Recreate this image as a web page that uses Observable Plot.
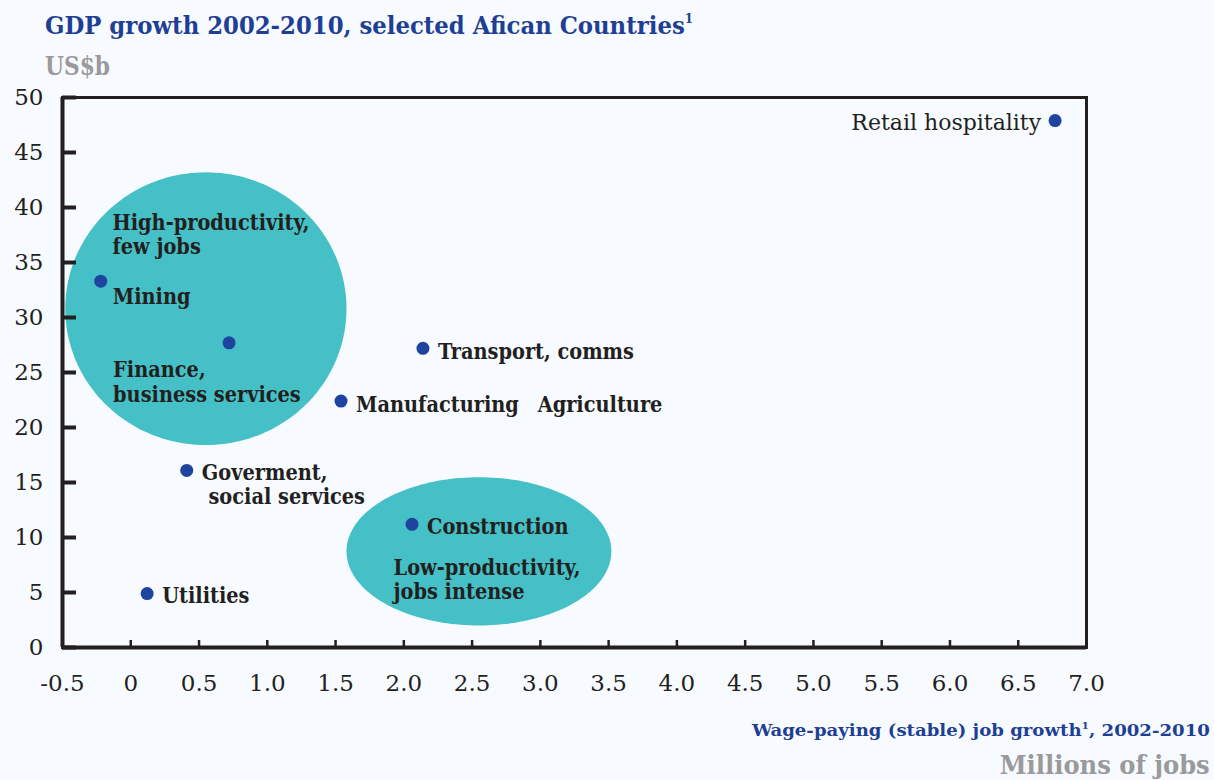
<!DOCTYPE html>
<html>
<head>
<meta charset="utf-8">
<script src="https://cdn.jsdelivr.net/npm/d3@7"></script>
<script src="https://cdn.jsdelivr.net/npm/@observablehq/plot@0.6"></script>
<style>
  html, body { margin: 0; padding: 0; background: #f7fbff; width: 1214px; height: 780px; overflow: hidden; }
  .cap { position: absolute; white-space: nowrap; font-family: "DejaVu Serif Condensed", "DejaVu Serif", serif; font-stretch: condensed; font-weight: bold; line-height: 1; }
  #title { left: 45px; top: 12px; font-size: 25px; color: #1f3f95; transform-origin: left top; }
  #title sup { font-size: 13px; vertical-align: 11px; }
  #unit { left: 45px; top: 53px; font-size: 26px; color: #9a9a9c; transform-origin: left top; }
  #chart { position: absolute; left: 0; top: 80px; }
  #xlabel { right: 4px; top: 721px; font-size: 17px; color: #1f3f95; transform-origin: right top; }
  #xlabel sup { font-size: 10px; vertical-align: 7px; }
  #xunit { right: 4px; top: 752px; font-size: 26px; color: #9a9a9c; transform-origin: right top; }
</style>
</head>
<body>
<div id="title" class="cap">GDP growth 2002-2010, selected Afican Countries<sup>1</sup></div>
<div id="unit" class="cap">US$b</div>
<div id="chart"></div>
<div id="xlabel" class="cap">Wage-paying (stable) job growth<sup>1</sup>, 2002-2010</div>
<div id="xunit" class="cap">Millions of jobs</div>
<script>
// ---- data ----
const sectors = ["Retail hospitality", "Mining", "Finance, business services", "Transport, comms",
                 "Manufacturing", "Goverment, social services", "Construction", "Utilities"];
const jobGrowth = [6.77, -0.22, 0.72, 2.14, 1.54, 0.41, 2.06, 0.12];   // millions of jobs
const gdpGrowth = [47.9, 33.3, 27.7, 27.2, 22.4, 16.1, 11.2, 4.9];     // US$b

const xTicks = [-0.5, 0, 0.5, 1, 1.5, 2, 2.5, 3, 3.5, 4, 4.5, 5, 5.5, 6, 6.5, 7];
const xTickLabels = ["-0.5", "0", "0.5", "1.0", "1.5", "2.0", "2.5", "3.0", "3.5", "4.0", "4.5", "5.0", "5.5", "6.0", "6.5", "7.0"];
const yTicks = [0, 5, 10, 15, 20, 25, 30, 35, 40, 45, 50];

// cluster ellipses (centre and radii in data units)
const clusterNames = ["High-productivity", "Low-productivity"];
const clusterCx = [0.55, 2.55];
const clusterCy = [30.8, 8.74];
const clusterRx = [1.03, 0.97];
const clusterRy = [12.4, 6.74];

// free annotations
const noteTexts = ["High-productivity,\nfew jobs", "Low-productivity,\njobs intense", "Agriculture"];
const noteX = [-0.134, 1.925, 2.98];
const noteY = [37.6, 6.24, 22.1];

// ---- label styling (offsets in px from each dot) ----
const labelStyle = {
  "Retail hospitality": {text: "Retail hospitality", dx: -14, dy: 2, anchor: "end", weight: "normal", font: "DejaVu Serif"},
  "Mining": {text: "Mining", dx: 12, dy: 15, anchor: "start", weight: "bold"},
  "Finance, business services": {text: "Finance,\nbusiness services", dx: -116, dy: 39, anchor: "start", weight: "bold"},
  "Transport, comms": {text: "Transport, comms", dx: 15, dy: 3, anchor: "start", weight: "bold"},
  "Manufacturing": {text: "Manufacturing", dx: 15, dy: 3, anchor: "start", weight: "bold"},
  "Goverment, social services": {text: "Goverment,\n\u00a0social services", dx: 15, dy: 14, anchor: "start", weight: "bold"},
  "Construction": {text: "Construction", dx: 15, dy: 2, anchor: "start", weight: "bold"},
  "Utilities": {text: "Utilities", dx: 15, dy: 2, anchor: "start", weight: "bold"}
};

const points = sectors.map((s, i) => ({sector: s, x: jobGrowth[i], y: gdpGrowth[i]}));
const notes = noteTexts.map((t, i) => ({text: t, x: noteX[i], y: noteY[i]}));

// ellipse outlines
const ellipsePts = [];
clusterNames.forEach((name, k) => {
  for (let j = 0; j <= 180; j++) {
    const a = (j / 180) * 2 * Math.PI;
    ellipsePts.push({cluster: name, x: clusterCx[k] + clusterRx[k] * Math.cos(a), y: clusterCy[k] + clusterRy[k] * Math.sin(a)});
  }
});

const ink = "#231f20";
const labelFont = "DejaVu Serif Condensed";
const W = 1214, mL = 62, mR = 128, mT = 17, mB = 60, H = 627;
const innerW = W - mL - mR, innerH = H - mT - mB;

const textMarks = sectors.map(s => {
  const st = labelStyle[s];
  return Plot.text(points.filter(p => p.sector === s), {
    x: "x", y: "y", text: () => st.text, dx: st.dx, dy: st.dy,
    textAnchor: st.anchor, fontWeight: st.weight, fontSize: st.font ? 22 : 21.5, lineHeight: 1.12,
    fill: ink, fontFamily: st.font || labelFont
  });
});

const chart = Plot.plot({
  width: W, height: H,
  marginLeft: mL, marginRight: mR, marginTop: mT, marginBottom: mB,
  style: {background: "transparent", fontFamily: "DejaVu Serif", color: ink, overflow: "visible"},
  x: {domain: [-0.5, 7], label: null},
  y: {domain: [0, 50], label: null},
  marks: [
    Plot.line(ellipsePts, {x: "x", y: "y", z: "cluster", fill: "#44c0c6", stroke: "none", curve: "linear-closed"}),
    Plot.axisX(xTicks, {tickSize: 0, tickPadding: 27, fontSize: 23, fill: ink, tickFormat: d => xTickLabels[xTicks.indexOf(d)]}),
    Plot.axisY(yTicks, {tickSize: 0, tickPadding: 19, fontSize: 23, fill: ink, tickFormat: d => String(d)}),
    Plot.tickY(yTicks, {y: d => d, insetRight: innerW - 14, stroke: ink, strokeWidth: 4}),
    Plot.tickX(xTicks, {x: d => d, insetTop: innerH - 7, stroke: ink, strokeWidth: 2.5}),
    Plot.frame({stroke: ink, strokeWidth: 3}),
    Plot.ruleX([-0.5], {stroke: ink, strokeWidth: 4}),
    Plot.ruleY([0], {stroke: ink, strokeWidth: 4}),
    Plot.dot(points, {x: "x", y: "y", r: 6.5, fill: "#1f44a0", stroke: "none"}),
    ...textMarks,
    Plot.text(notes, {x: "x", y: "y", text: "text", textAnchor: "start", fontWeight: "bold", fontSize: 21.5, lineHeight: 1.12, fill: ink, fontFamily: labelFont})
  ]
});
document.getElementById("chart").appendChild(chart);

// fit caption widths to the reference layout
function fit(id, target) {
  const el = document.getElementById(id);
  const w = el.getBoundingClientRect().width;
  if (w > 0) el.style.transform = `scaleX(${target / w})`;
}
fit("title", 648);
fit("unit", 65);
fit("xlabel", 458);
fit("xunit", 210);
</script>
</body>
</html>
